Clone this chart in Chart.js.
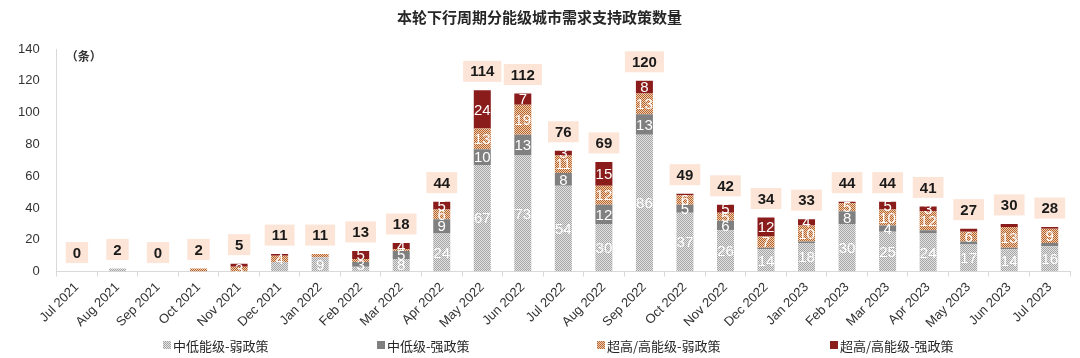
<!DOCTYPE html>
<html>
<head>
<meta charset="utf-8">
<script src="https://cdn.jsdelivr.net/npm/chart.js@4.4.0/dist/chart.umd.min.js"></script>
<style>
  html, body { margin: 0; padding: 0; background: #fff; }
  #wrap { width: 1080px; height: 358px; }
</style>
</head>
<body>
<div id="wrap"><canvas id="policyChart"></canvas></div>
<script>
// months of the downturn cycle
const months = ['Jul 2021', 'Aug 2021', 'Sep 2021', 'Oct 2021', 'Nov 2021', 'Dec 2021',
    'Jan 2022', 'Feb 2022', 'Mar 2022', 'Apr 2022', 'May 2022', 'Jun 2022', 'Jul 2022',
    'Aug 2022', 'Sep 2022', 'Oct 2022', 'Nov 2022', 'Dec 2022', 'Jan 2023', 'Feb 2023',
    'Mar 2023', 'Apr 2023', 'May 2023', 'Jun 2023', 'Jul 2023'];

const lowWeak   = [0, 2, 0, 0, 0, 6, 9, 3, 8, 24, 67, 73, 54, 30, 86, 37, 26, 14, 18, 30, 25, 24, 17, 14, 16];
const lowStrong = [0, 0, 0, 0, 0, 0, 0, 3, 5, 9, 10, 13, 8, 12, 13, 5, 6, 1, 1, 8, 4, 2, 2, 1, 2];
const highWeak  = [0, 0, 0, 2, 3, 4, 2, 2, 1, 6, 13, 19, 11, 12, 13, 6, 5, 7, 10, 5, 10, 12, 6, 13, 9];
const highStrong = [0, 0, 0, 0, 2, 1, 0, 5, 4, 5, 24, 7, 3, 15, 8, 1, 5, 12, 4, 1, 5, 3, 2, 2, 1];

const yTicks = [0, 20, 40, 60, 80, 100, 120, 140];

const seriesNames = ['中低能级-弱政策', '中低级-强政策', '超高/高能级-弱政策', '超高/高能级-强政策'];

const totals = months.map((m, i) => lowWeak[i] + lowStrong[i] + highWeak[i] + highStrong[i]);

/**
 * Small checker fill like the Excel pattern fills
 */
function makePattern(light, dark) {
    const c = document.createElement('canvas');
    c.width = 2;
    c.height = 2;
    const g = c.getContext('2d');
    g.fillStyle = light;
    g.fillRect(0, 0, 2, 2);
    g.fillStyle = dark;
    g.fillRect(0, 0, 1, 1);
    g.fillRect(1, 1, 1, 1);
    return g.createPattern(c, 'repeat');
}

const grayPattern = makePattern('#e2e2e2', '#a6a6a6');
const orangePattern = makePattern('#f2cdb0', '#b3652f');

// legend item left edges (px)
const legendX = [163, 377, 597, 830];

// draws the value labels in segments, the boxed totals, unit label and legend
const labelPlugin = {
    id: 'labelPlugin',
    afterDatasetsDraw(chart) {
        const ctx = chart.ctx;
        ctx.save();
        ctx.textAlign = 'center';
        ctx.textBaseline = 'middle';
        ctx.font = '15px "Liberation Sans", Arial, sans-serif';
        ctx.fillStyle = '#ffffff';
        chart.data.datasets.forEach((ds, di) => {
            const meta = chart.getDatasetMeta(di);
            meta.data.forEach((bar, i) => {
                const v = ds.data[i];
                if (v < 3 || (di === 0 && v < 8)) return;
                ctx.fillText(String(v), bar.x, (bar.y + bar.base) / 2 + 1);
            });
        });

        const yScale = chart.scales.y;
        const topMeta = chart.getDatasetMeta(0);
        ctx.font = 'bold 15px "Liberation Sans", Arial, sans-serif';
        totals.forEach((t, i) => {
            const x = topMeta.data[i].x;
            const cy = yScale.getPixelForValue(t) - 19;
            const txt = String(t);
            const w = ctx.measureText(txt).width + 14;
            ctx.fillStyle = '#fce4d6';
            ctx.fillRect(x - w / 2, cy - 10.5, w, 21);
            ctx.fillStyle = '#1a1a1a';
            ctx.fillText(txt, x, cy + 1);
        });

        ctx.font = 'bold 12px "Noto Sans CJK SC", sans-serif';
        ctx.fillStyle = '#333333';
        ctx.textAlign = 'left';
        ctx.fillText('（条）', chart.chartArea.left + 9, 56);

        // legend
        const fills = chart.data.datasets.map(ds => ds.backgroundColor);
        ctx.font = '13px "Noto Sans CJK SC", sans-serif';
        seriesNames.forEach((name, i) => {
            const lx = legendX[i];
            const ly = 345;
            ctx.fillStyle = fills[i];
            ctx.fillRect(lx, ly - 4, 8, 8);
            ctx.fillStyle = '#262626';
            ctx.fillText(name, lx + 10, ly + 1);
        });
        ctx.restore();
    }
};

document.addEventListener('DOMContentLoaded', function() {
    const ctx = document.getElementById('policyChart').getContext('2d');

    new Chart(ctx, {
        type: 'bar',
        data: {
            labels: months,
            datasets: [
                { label: seriesNames[0], data: lowWeak, backgroundColor: grayPattern },
                { label: seriesNames[1], data: lowStrong, backgroundColor: '#808080' },
                { label: seriesNames[2], data: highWeak, backgroundColor: orangePattern },
                { label: seriesNames[3], data: highStrong, backgroundColor: '#8b1c1c' }
            ]
        },
        options: {
            responsive: true,
            maintainAspectRatio: false,
            animation: false,
            layout: { padding: { left: 9, right: 10, top: 4, bottom: 24 } },
            datasets: {
                bar: { barPercentage: 0.42, categoryPercentage: 1.0, borderWidth: 0 }
            },
            scales: {
                x: {
                    stacked: true,
                    grid: { drawOnChartArea: false, color: '#d9d9d9', tickLength: 5 },
                    border: { color: '#d9d9d9' },
                    ticks: {
                        minRotation: 45,
                        maxRotation: 45,
                        color: '#333333',
                        font: { family: '"Liberation Sans", Arial, sans-serif', size: 13 }
                    }
                },
                y: {
                    stacked: true,
                    min: 0,
                    max: 140,
                    afterBuildTicks: function(axis) {
                        axis.ticks = yTicks.map(v => ({ value: v }));
                    },
                    grid: { display: false },
                    border: { color: '#d9d9d9' },
                    ticks: {
                        color: '#333333',
                        padding: 9,
                        font: { family: '"Liberation Sans", Arial, sans-serif', size: 13 }
                    }
                }
            },
            plugins: {
                title: {
                    display: true,
                    text: '本轮下行周期分能级城市需求支持政策数量',
                    color: '#262626',
                    font: { family: '"Noto Sans CJK SC", sans-serif', size: 15, weight: 'bold' },
                    padding: { top: 4, bottom: 23 }
                },
                legend: { display: false },
                tooltip: { enabled: false }
            }
        },
        plugins: [labelPlugin]
    });
});
</script>
</body>
</html>
